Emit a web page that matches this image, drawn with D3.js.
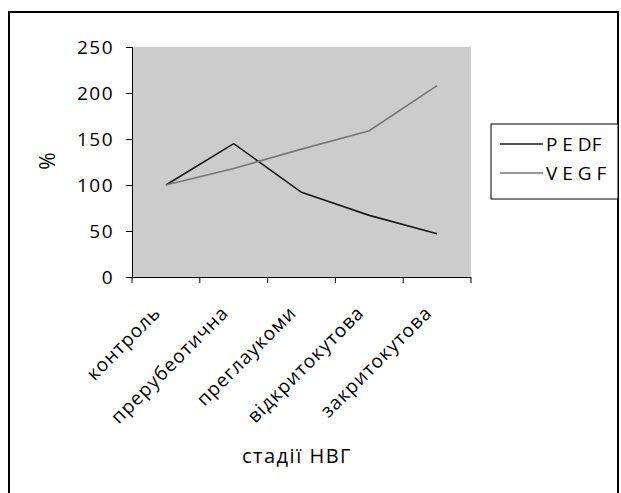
<!DOCTYPE html>
<html>
<head>
<meta charset="utf-8">
<script src="https://cdn.jsdelivr.net/npm/d3@7"></script>
<style>
  body { margin: 0; background: #fff; }
  text { font-family: 'Open Sans', 'Noto Sans', sans-serif; fill: #000; }
</style>
</head>
<body>
<svg width="621" height="493"></svg>
<script>
WIDTH = 621;
HEIGHT = 493;

const stages = ['контроль', 'прерубеотична', 'преглаукоми', 'відкритокутова', 'закритокутова'];
const pedf = [100, 145, 92, 67, 47];
const vegf = [100, 118, 139, 159, 208];
const yTicks = [0, 50, 100, 150, 200, 250];

const series = [
  {name: 'P E DF', values: pedf, color: '#1a1a1a'},
  {name: 'V E G F', values: vegf, color: '#777777'},
];

function drawChart() {
  const svg = d3.select('svg');
  const plot = {left: 132, top: 47, right: 471, bottom: 277};

  // outer frame
  svg.append('rect')
    .attr('x', 9).attr('y', 12)
    .attr('width', 609).attr('height', 490)
    .attr('fill', 'none').attr('stroke', '#000').attr('stroke-width', 2);

  const x = d3.scaleBand().domain(stages).range([plot.left, plot.right]);
  const y = d3.scaleLinear().domain([0, 250]).range([plot.bottom, plot.top]);

  svg.append('rect')
    .attr('x', plot.left).attr('y', plot.top)
    .attr('width', plot.right - plot.left).attr('height', plot.bottom - plot.top)
    .attr('fill', '#cccccc');

  // y axis
  const yAxis = svg.append('g')
    .attr('transform', `translate(${plot.left},0)`)
    .call(d3.axisLeft(y).tickValues(yTicks).tickSize(6).tickPadding(12));
  yAxis.select('.domain').attr('stroke', '#000');
  yAxis.selectAll('line').attr('stroke', '#000');
  yAxis.selectAll('text')
    .style('font-size', '19px')
    .style('letter-spacing', '1.5px')
    .attr('fill', '#000');

  // x axis: ticks at band edges
  const edges = stages.map((s) => x(s)).concat([plot.right]);
  svg.append('line')
    .attr('x1', plot.left).attr('x2', plot.right)
    .attr('y1', plot.bottom + 0.5).attr('y2', plot.bottom + 0.5)
    .attr('stroke', '#000');
  svg.selectAll('.xtick')
    .data(edges)
    .join('line')
    .attr('class', 'xtick')
    .attr('x1', (d) => d).attr('x2', (d) => d)
    .attr('y1', plot.bottom).attr('y2', plot.bottom + 6)
    .attr('stroke', '#000');

  svg.selectAll('.xlabel')
    .data(stages)
    .join('text')
    .attr('class', 'xlabel')
    .attr('text-anchor', 'end')
    .style('font-size', '19px')
    .style('letter-spacing', '1px')
    .attr('transform', (d) => `translate(${x(d) + x.bandwidth() / 2 - 4},${plot.bottom + 37}) rotate(-45)`)
    .text((d) => d);

  // axis titles
  svg.append('text')
    .attr('transform', 'translate(55,161) rotate(-90)')
    .attr('text-anchor', 'middle')
    .style('font-size', '21px')
    .text('%');

  svg.append('text')
    .attr('x', 297).attr('y', 463)
    .attr('text-anchor', 'middle')
    .style('font-size', '20px')
    .style('letter-spacing', '1.5px')
    .text('стадії НВГ');

  // lines
  const line = d3.line()
    .x((d, i) => x(stages[i]) + x.bandwidth() / 2)
    .y((d) => y(d));

  svg.selectAll('.series')
    .data(series)
    .join('path')
    .attr('class', 'series')
    .attr('fill', 'none')
    .attr('stroke', (d) => d.color)
    .attr('stroke-width', 1.6)
    .attr('d', (d) => line(d.values));

  // legend
  const lg = svg.append('g').attr('transform', 'translate(491,124)');
  lg.append('rect')
    .attr('x', 0).attr('y', 0).attr('width', 127).attr('height', 75)
    .attr('fill', '#fff').attr('stroke', '#000').attr('stroke-width', 1);
  series.forEach((s, i) => {
    const yy = 20 + i * 29;
    lg.append('line')
      .attr('x1', 9).attr('x2', 52).attr('y1', yy).attr('y2', yy)
      .attr('stroke', s.color).attr('stroke-width', 1.6);
    lg.append('text')
      .attr('x', 55).attr('y', yy + 7)
      .style('font-size', '19px')
      .text(s.name);
  });
}

drawChart();
</script>
</body>
</html>
